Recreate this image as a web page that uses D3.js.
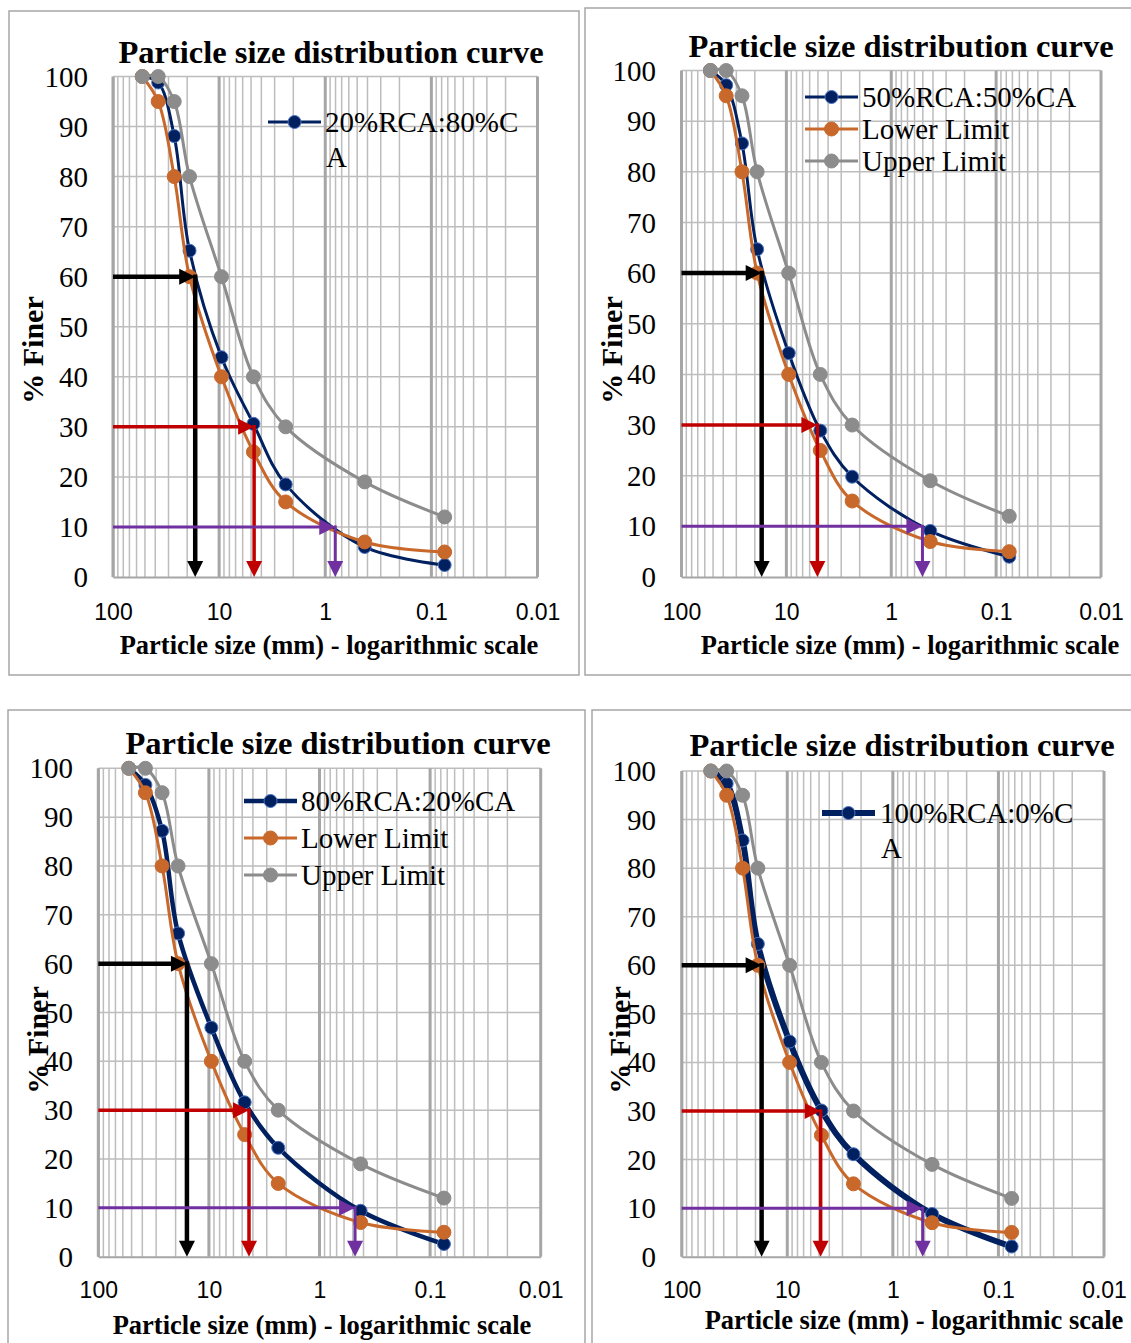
<!DOCTYPE html>
<html>
<head>
<meta charset="utf-8">
<script src="https://cdn.jsdelivr.net/npm/d3@7"></script>
<style>
  body { margin: 0; background: #fff; }
  svg { display: block; }
</style>
</head>
<body>
<div id="chart"></div>
<script>
// sieve sizes (mm) and % finer values
const sieveSizes = [53, 37.5, 26.5, 19, 9.5, 4.75, 2.36, 0.425, 0.075];
const upperLimit = [100, 100, 95, 80, 60, 40, 30, 19, 12];
const lowerLimit = [100, 95, 80, 60, 40, 25, 15, 7, 5];
const rca20 = [100, 98.8, 88.1, 65.2, 43.9, 30.6, 18.5, 6.0, 2.4];
const rca50 = [100, 97.1, 85.6, 64.7, 44.2, 28.9, 19.8, 9.1, 4.0];
const rca80 = [100, 96.6, 87.2, 66.2, 46.9, 31.6, 22.3, 9.4, 2.6];
const rca100 = [100, 97.4, 85.7, 64.4, 44.3, 30.1, 21.1, 8.8, 2.1];

// D60 / D30 / D10 arrows, one per panel
const d60 = [16.8, 17.2, 15.8, 17.5];
const d30 = [4.68, 5.06, 4.34, 4.83];
const d10 = [0.805, 0.504, 0.477, 0.522];

const xTicks = [100, 10, 1, 0.1, 0.01];
const yTicks = [0, 10, 20, 30, 40, 50, 60, 70, 80, 90, 100];
const blendNames = ["20%RCA:80%CA", "50%RCA:50%CA", "80%RCA:20%CA", "100%RCA:0%CA"];
const blends = [rca20, rca50, rca80, rca100];

const titleText = "Particle size distribution curve";
const xTitle = "Particle size (mm) - logarithmic scale";
const yTitle = "% Finer";

const colors = { blend: "#002060", blendEdge: "#4a72c0", lower: "#c8682b", upper: "#8c8c8c" };

// layout of each panel
const panels = [
  { box: [9, 11, 579, 675], plot: [113, 537.5, 76.5, 577], title: [331, 63], xt: [329, 654], yt: [33, 350],
    yLab: 88, xLabY: 612, blueW: 3, legend: { x: 268, y: [122], wrap: true, text: 325 } },
  { box: [585, 8, 1140, 675], plot: [681.5, 1101, 70.5, 577], title: [901, 57], xt: [910, 654], yt: [612, 350],
    yLab: 656, xLabY: 612, blueW: 3, legend: { x: 805, y: [97, 129, 161], wrap: false, text: 862 } },
  { box: [8, 710, 585, 1350], plot: [98.3, 540.7, 768.3, 1256.7], title: [338, 754], xt: [322, 1334], yt: [38, 1040],
    yLab: 73, xLabY: 1290, blueW: 4.5, legend: { x: 244, y: [801, 838, 875], wrap: false, text: 301 } },
  { box: [592, 710, 1140, 1350], plot: [681.7, 1104, 771, 1256.7], title: [902, 756], xt: [914, 1329], yt: [620, 1040],
    yLab: 656, xLabY: 1290, blueW: 6, legend: { x: 822, y: [813], wrap: true, text: 880 } }
];

const svg = d3.select("#chart").append("svg")
  .attr("width", 1131).attr("height", 1343);

const serif = "'Liberation Serif', 'Times New Roman', serif";
const sans = "'Liberation Sans', Arial, sans-serif";

panels.forEach((p, i) => {
  const g = svg.append("g");
  const [left, right, top, bottom] = p.plot;

  // panel frame
  g.append("rect")
    .attr("x", p.box[0]).attr("y", p.box[1])
    .attr("width", p.box[2] - p.box[0]).attr("height", p.box[3] - p.box[1])
    .attr("fill", "#fff").attr("stroke", "#a6a6a6").attr("stroke-width", 1.5);

  const x = d3.scaleLog().domain([100, 0.01]).range([left, right]);
  const y = d3.scaleLinear().domain([0, 100]).range([bottom, top]);

  // log grid: minor lines then decade lines
  const minor = [];
  for (let e = -2; e < 2; e++) {
    for (let k = 2; k <= 9; k++) minor.push(k * Math.pow(10, e));
  }
  g.selectAll(".minor").data(minor).enter().append("line")
    .attr("x1", d => x(d)).attr("x2", d => x(d))
    .attr("y1", top).attr("y2", bottom)
    .attr("stroke", "#bdbdbd").attr("stroke-width", 1.5);

  g.selectAll(".hgrid").data(yTicks.slice(1)).enter().append("line")
    .attr("x1", left).attr("x2", right)
    .attr("y1", d => y(d)).attr("y2", d => y(d))
    .attr("stroke", "#bdbdbd").attr("stroke-width", 1.5);

  g.selectAll(".major").data(xTicks).enter().append("line")
    .attr("x1", d => x(d)).attr("x2", d => x(d))
    .attr("y1", top).attr("y2", bottom)
    .attr("stroke", "#a6a6a6").attr("stroke-width", 3);

  // axes
  const xAxis = g.append("g")
    .attr("transform", "translate(0," + bottom + ")")
    .call(d3.axisBottom(x).tickValues(xTicks).tickFormat(d => String(d)).tickSize(0));
  xAxis.select(".domain").attr("stroke", "#a6a6a6").attr("stroke-width", 2);
  xAxis.selectAll("text")
    .attr("y", p.xLabY - bottom).attr("dy", "0.35em")
    .style("font-family", sans).style("font-size", "23px").attr("fill", "#000");

  const yAxis = g.append("g")
    .attr("transform", "translate(" + left + ",0)")
    .call(d3.axisLeft(y).tickValues(yTicks).tickSize(0));
  yAxis.select(".domain").attr("stroke", "#a6a6a6").attr("stroke-width", 2);
  yAxis.selectAll("text")
    .attr("x", p.yLab - left).attr("dy", "0.33em")
    .style("font-family", serif).style("font-size", "29px").attr("fill", "#000");

  // titles
  g.append("text")
    .attr("x", p.title[0]).attr("y", p.title[1])
    .attr("text-anchor", "middle")
    .style("font-family", serif).style("font-weight", "bold").style("font-size", "32.5px")
    .text(titleText);

  g.append("text")
    .attr("x", p.xt[0]).attr("y", p.xt[1])
    .attr("text-anchor", "middle")
    .style("font-family", serif).style("font-weight", "bold").style("font-size", "26.5px")
    .text(xTitle);

  g.append("text")
    .attr("transform", "translate(" + (p.yt[0] + 10) + "," + p.yt[1] + ") rotate(-90)")
    .attr("text-anchor", "middle")
    .style("font-family", serif).style("font-weight", "bold").style("font-size", "30px")
    .text(yTitle);

  // series: blend first, then lower, then upper (Excel draw order)
  const line = d3.line()
    .x(d => x(d[0])).y(d => y(d[1]))
    .curve(d3.curveCatmullRom.alpha(0.5));

  const series = [
    { vals: blends[i], color: colors.blend, edge: colors.blendEdge, w: p.blueW, r: 6.5 },
    { vals: lowerLimit, color: colors.lower, edge: colors.lower, w: 3, r: 7 },
    { vals: upperLimit, color: colors.upper, edge: colors.upper, w: 3, r: 7 }
  ];

  series.forEach(s => {
    const pts = sieveSizes.map((d, j) => [d, s.vals[j]]);
    g.append("path")
      .datum(pts)
      .attr("d", line)
      .attr("fill", "none")
      .attr("stroke", s.color)
      .attr("stroke-width", s.w);
    g.selectAll(null).data(pts).enter().append("circle")
      .attr("cx", d => x(d[0])).attr("cy", d => y(d[1]))
      .attr("r", s.r)
      .attr("fill", s.color)
      .attr("stroke", s.edge).attr("stroke-width", 1);
  });

  // D60 / D30 / D10 arrows
  const arrows = [
    { size: d60[i], pct: 60, color: "#000000", w: 4.5, head: 8 },
    { size: d30[i], pct: 30, color: "#c00000", w: 3.5, head: 8 },
    { size: d10[i], pct: 10, color: "#7030a0", w: 3, head: 8 }
  ];
  arrows.forEach(a => {
    const ax = x(a.size), ay = y(a.pct);
    g.append("line")
      .attr("x1", left).attr("x2", ax - 12)
      .attr("y1", ay).attr("y2", ay)
      .attr("stroke", a.color).attr("stroke-width", a.w);
    g.append("path")
      .attr("d", "M" + ax + "," + ay + "L" + (ax - 16) + "," + (ay - a.head) + "L" + (ax - 16) + "," + (ay + a.head) + "Z")
      .attr("fill", a.color);
    g.append("line")
      .attr("x1", ax).attr("x2", ax)
      .attr("y1", ay - a.w / 2).attr("y2", bottom - 12)
      .attr("stroke", a.color).attr("stroke-width", a.w);
    g.append("path")
      .attr("d", "M" + ax + "," + bottom + "L" + (ax - a.head) + "," + (bottom - 16) + "L" + (ax + a.head) + "," + (bottom - 16) + "Z")
      .attr("fill", a.color);
  });

  // legend
  const lg = p.legend;
  const entries = lg.y.length === 1
    ? [{ name: blendNames[i], s: series[0] }]
    : [{ name: blendNames[i], s: series[0] }, { name: "Lower Limit", s: series[1] }, { name: "Upper Limit", s: series[2] }];
  entries.forEach((e, k) => {
    const ly = lg.y[k];
    g.append("line")
      .attr("x1", lg.x).attr("x2", lg.x + 53)
      .attr("y1", ly).attr("y2", ly)
      .attr("stroke", e.s.color).attr("stroke-width", e.s.w);
    g.append("circle")
      .attr("cx", lg.x + 26.5).attr("cy", ly).attr("r", e.s.r)
      .attr("fill", e.s.color).attr("stroke", e.s.edge).attr("stroke-width", 1);
    const label = g.append("text")
      .attr("x", lg.text).attr("y", ly + 10)
      .style("font-family", serif).style("font-size", "29px");
    if (lg.wrap) {
      // the single-entry legends wrap the last letter onto a second line
      label.text(e.name.slice(0, -1));
      g.append("text")
        .attr("x", lg.text + 1).attr("y", ly + 45)
        .style("font-family", serif).style("font-size", "29px")
        .text(e.name.slice(-1));
    } else {
      label.text(e.name);
    }
  });
});
</script>
</body>
</html>
